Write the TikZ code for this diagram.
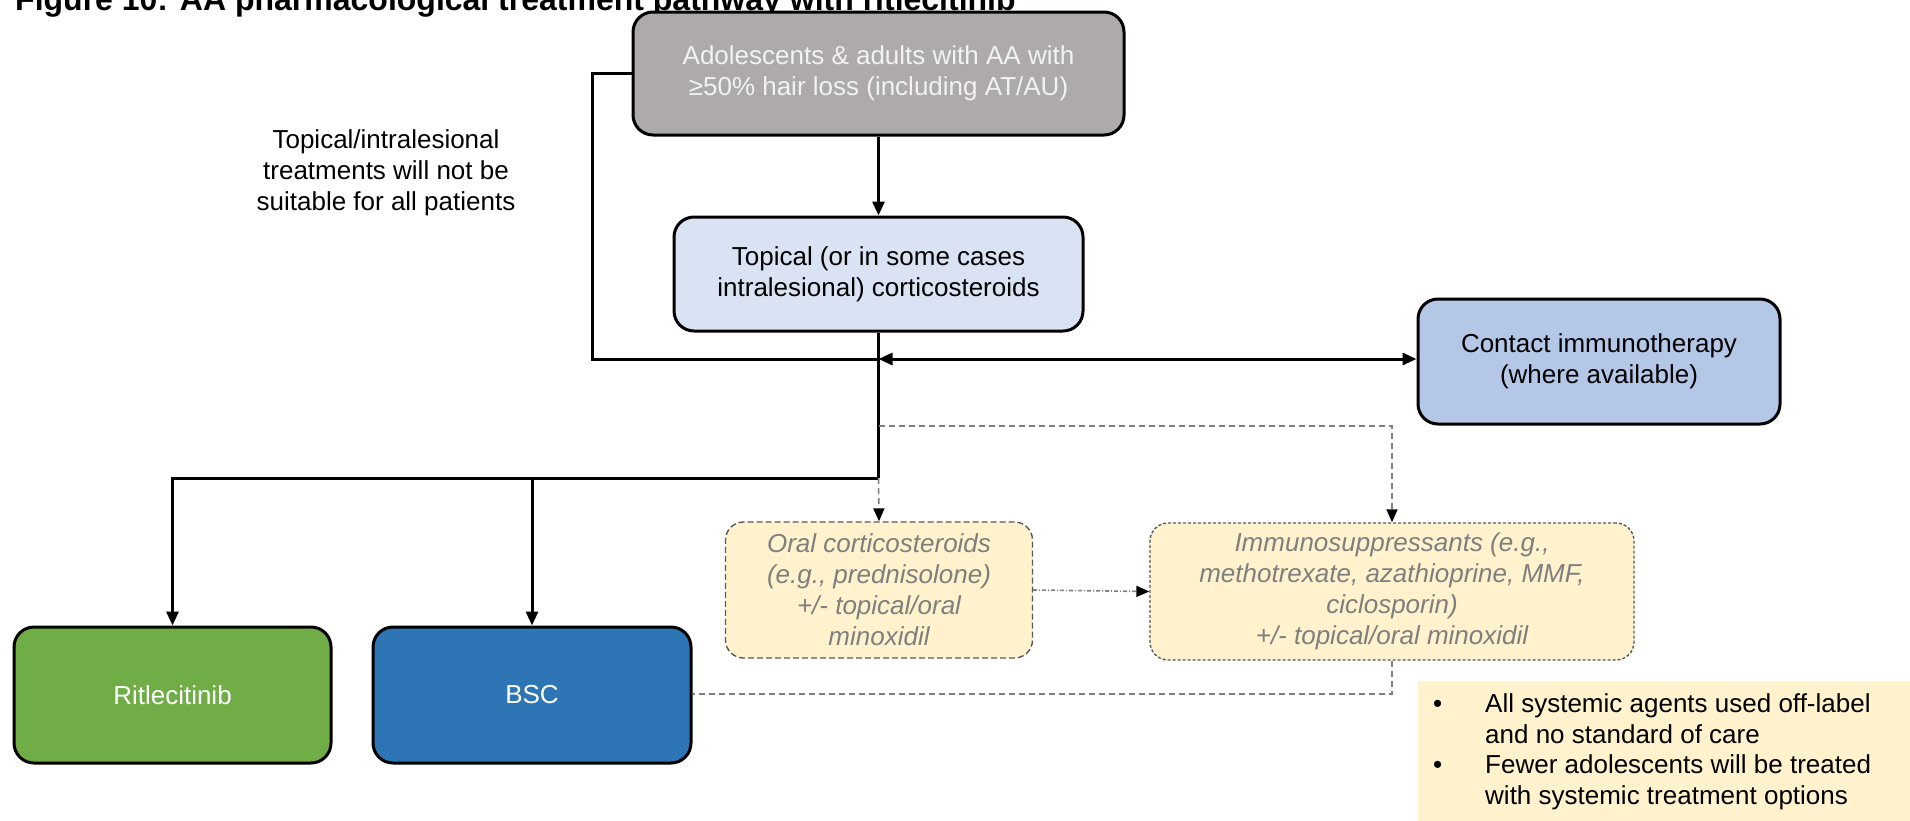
\documentclass[tikz,border=0pt]{standalone}
\usepackage{fontspec}
\setmainfont{Liberation Sans}
\usetikzlibrary{arrows.meta,calc}
\definecolor{startfill}{HTML}{AEAAAA}
\definecolor{starttext}{HTML}{F2F2F2}
\definecolor{topfill}{HTML}{DAE3F3}
\definecolor{contactfill}{HTML}{B4C7E7}
\definecolor{ritfill}{HTML}{70AD47}
\definecolor{bscfill}{HTML}{2E75B6}
\definecolor{sysfill}{HTML}{FFF2CC}
\definecolor{systext}{HTML}{7F7F7F}
\definecolor{dashgray}{HTML}{7F7F7F}
\definecolor{sysborder}{HTML}{595959}
\begin{document}
\begin{tikzpicture}[x=1pt,y=-1pt,
  txt/.style={font=\fontsize{26}{31}\selectfont, align=center},
  solidbox/.style={txt, draw=black, line width=3pt, rounded corners=20pt, inner sep=0pt},
  sysbox/.style={txt, draw=sysborder, line width=1.4pt, rounded corners=18pt, fill=sysfill,
     text=systext, inner sep=0pt, font=\fontsize{26}{31}\selectfont\itshape},
  conn/.style={line width=3pt, draw=black},
  tip/.style={-{Triangle[length=14pt,width=12pt]}},
  dconn/.style={line width=1.6pt, draw=dashgray, dash pattern=on 6pt off 4pt},
]
\useasboundingbox (0,0) rectangle (1910,820);
\clip (0,0) rectangle (1910,820);

% title (cut off at top in the reference)
\node[anchor=base west, inner sep=0pt, font=\fontsize{32}{36}\selectfont\bfseries] (title) at (15,10)
  {Figure 10: AA pharmacological treatment pathway with ritlecitinib};

% nodes
\node[solidbox, fill=startfill, text=starttext, minimum width=491pt, minimum height=123pt] (start) at (878.5,73.5)
  {Adolescents \& adults with AA with\\ ≥50\% hair loss (including AT/AU)};
\node[solidbox, fill=topfill, minimum width=409pt, minimum height=114pt] (topical) at (878.5,274)
  {Topical (or in some cases\\ intralesional) corticosteroids};
\node[solidbox, fill=contactfill, minimum width=362pt, minimum height=125pt] (contact) at (1599,361.5)
  {Contact immunotherapy\\ (where available)};
\node[txt, inner sep=0pt] (unsuit) at (386,173)
  {Topical/intralesional\\ treatments will not be\\ suitable for all patients};
\node[solidbox, fill=ritfill, text=white, minimum width=317pt, minimum height=136pt] (rit) at (172.5,695)
  {Ritlecitinib};
\node[solidbox, fill=bscfill, text=white, minimum width=318pt, minimum height=136pt] (bsc) at (532,695)
  {BSC};
\node[sysbox, dash pattern=on 6pt off 3pt, minimum width=307pt, minimum height=136pt] (oral) at (879,590)
  {Oral corticosteroids\\ (e.g., prednisolone)\\ +/- topical/oral\\ minoxidil};
\node[sysbox, dash pattern=on 3pt off 2pt, minimum width=484pt, minimum height=137pt] (immuno) at (1392,591.5)
  {Immunosuppressants (e.g.,\\ methotrexate, azathioprine, MMF,\\ ciclosporin)\\ +/- topical/oral minoxidil};
\node[fill=sysfill, anchor=north west, minimum width=500pt, minimum height=150pt, inner sep=0pt] (notebox) at (1418,681) {};
\node[anchor=north west, inner sep=0pt, font=\fontsize{26}{30.5}\selectfont] (notetext) at (1433,691)
  {\renewcommand{\arraystretch}{1}\begin{tabular}{@{}p{52pt}@{}l@{}}
   • & All systemic agents used off-label\\
     & and no standard of care\\
   • & Fewer adolescents will be treated\\
     & with systemic treatment options
  \end{tabular}};

% junction coordinates
\coordinate (jtop) at (topical.south |- 0,359);
\coordinate (jdash) at (topical.south |- 0,426);
\coordinate (jlow) at (topical.south |- 0,478);
\coordinate (loopc) at (592,359);

% solid connectors
\draw[conn, tip] (start) -- (topical);
\draw[conn] (start.west |- 0,73) -| (loopc) -- (jtop);
\draw[conn] (topical.south) -- (jlow);
\draw[conn, {Triangle[length=14pt,width=12pt]}-{Triangle[length=14pt,width=12pt]}] (jtop) -- (contact.west |- jtop);
\draw[conn, tip] (jlow) -| (rit.north);
\draw[conn, tip] (bsc.north |- jlow) -- (bsc.north);

% dashed connectors
\draw[dconn, -{Triangle[length=13pt,width=11pt,fill=black,color=black]}] (jlow) -- (oral.north);
\draw[dconn, -{Triangle[length=13pt,width=11pt,fill=black,color=black]}] (jdash) -| (immuno.north);
\draw[line width=1.6pt, draw=dashgray, dash pattern=on 4pt off 2pt on 1pt off 2pt, -{Triangle[length=13pt,width=11pt,fill=black,color=black]}] (oral.east) -- (immuno.west);
\draw[dconn] (immuno.south) |- (bsc.east |- 0,694) -- (bsc.east |- 0,694);
\end{tikzpicture}
\end{document}
